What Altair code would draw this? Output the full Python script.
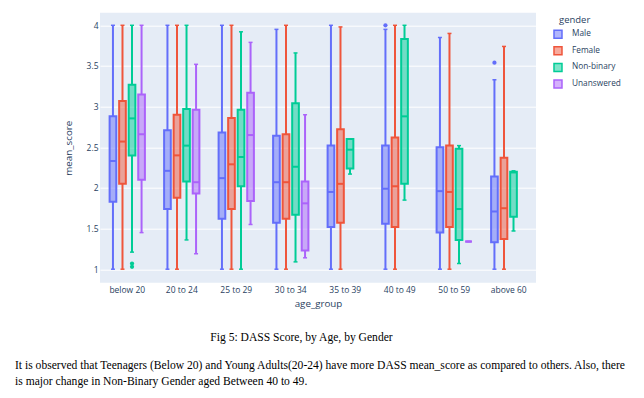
import altair as alt
import pandas as pd

AGE_GROUPS = ["below 20", "20 to 24", "25 to 29", "30 to 34",
              "35 to 39", "40 to 49", "50 to 59", "above 60"]
GENDERS = ["Male", "Female", "Non-binary", "Unanswered"]
LINE_COLORS = ["#636efa", "#EF553B", "#00cc96", "#ab63fa"]
FILL_COLORS = ["rgba(99,110,250,0.5)", "rgba(239,85,59,0.5)",
               "rgba(0,204,150,0.5)", "rgba(171,99,250,0.5)"]

# box statistics per age group (None = no box)
MALE_LO = [1, 1, 1, 1, 1, 1, 1, 1]
MALE_Q1 = [1.83, 1.74, 1.62, 1.57, 1.52, 1.56, 1.45, 1.33]
MALE_MED = [2.33, 2.21, 2.12, 2.07, 1.95, 1.99, 1.96, 1.71]
MALE_Q3 = [2.88, 2.71, 2.68, 2.64, 2.52, 2.52, 2.50, 2.14]
MALE_HI = [4, 4, 4, 3.95, 4, 3.95, 3.85, 3.33]

FEMALE_LO = [1, 1, 1, 1, 1, 1, 1, 1]
FEMALE_Q1 = [2.05, 1.88, 1.74, 1.62, 1.57, 1.52, 1.52, 1.37]
FEMALE_MED = [2.57, 2.40, 2.29, 2.07, 2.05, 2.02, 1.95, 1.75]
FEMALE_Q3 = [3.07, 2.90, 2.86, 2.66, 2.72, 2.62, 2.52, 2.37]
FEMALE_HI = [4, 4, 4, 4, 3.98, 4, 3.90, 3.74]

NB_LO = [1.21, 1.36, 1, 1.09, 2.17, 1.85, 1.07, 1.47]
NB_Q1 = [2.40, 2.08, 2.02, 1.67, 2.24, 2.05, 1.36, 1.645]
NB_MED = [2.855, 2.52, 2.38, 2.26, 2.47, 2.88, 1.74, 2.19]
NB_Q3 = [3.27, 2.97, 2.96, 3.04, 2.60, 3.83, 2.48, 2.20]
NB_HI = [4, 4, 3.92, 3.66, 2.60, 4, 2.52, 2.21]

UN_LO = [1.45, 1.19, 1.55, 1.14, None, None, 1.34, None]
UN_Q1 = [2.10, 1.93, 1.84, 1.23, None, None, 1.34, None]
UN_MED = [2.66, 2.07, 2.65, 1.81, None, None, 1.34, None]
UN_Q3 = [3.15, 2.96, 3.17, 2.08, None, None, 1.34, None]
UN_HI = [4, 3.52, 3.79, 2.90, None, None, 1.34, None]

OUTLIER_AGE = ["below 20", "below 20", "40 to 49", "above 60"]
OUTLIER_GENDER = ["Non-binary", "Non-binary", "Male", "Male"]
OUTLIER_VALUE = [1.07, 1.03, 4.0, 3.54]

CAPTION = "Fig 5: DASS Score, by Age, by Gender"
PARAGRAPH = [
    "It is observed that Teenagers (Below 20) and Young Adults(20-24) have more DASS mean_score as compared to others. Also, there",
    "is major change in Non-Binary Gender aged Between 40 to 49.",
]

series = {
    "Male": (MALE_LO, MALE_Q1, MALE_MED, MALE_Q3, MALE_HI),
    "Female": (FEMALE_LO, FEMALE_Q1, FEMALE_MED, FEMALE_Q3, FEMALE_HI),
    "Non-binary": (NB_LO, NB_Q1, NB_MED, NB_Q3, NB_HI),
    "Unanswered": (UN_LO, UN_Q1, UN_MED, UN_Q3, UN_HI),
}
rows = []
for g, (lo, q1, med, q3, hi) in series.items():
    for i, a in enumerate(AGE_GROUPS):
        if med[i] is None:
            continue
        rows.append(dict(age_group=a, gender=g, lo=lo[i], q1=q1[i],
                         med=med[i], q3=q3[i], hi=hi[i]))
stats = pd.DataFrame(rows)
outliers = pd.DataFrame(dict(age_group=OUTLIER_AGE, gender=OUTLIER_GENDER,
                             value=OUTLIER_VALUE))

FONT = "Open Sans"
TXT = "#2a3f5f"
SERIF = "Liberation Serif"

xenc = alt.X("age_group:N", sort=AGE_GROUPS, title="age_group",
             scale=alt.Scale(domain=AGE_GROUPS, paddingInner=0.3, paddingOuter=0.15),
             axis=alt.Axis(labelAngle=0, labelPadding=3, titlePadding=4, grid=False))
xoff = alt.XOffset("gender:N", sort=GENDERS,
                   scale=alt.Scale(domain=GENDERS, paddingInner=0.3, paddingOuter=0.15))
yscale = alt.Scale(domain=[0.834, 4.155], nice=False, zero=False)
yaxis = alt.Axis(values=[1, 1.5, 2, 2.5, 3, 3.5, 4], format="~g",
                 labelPadding=2, titlePadding=13)

legend = alt.Legend(title="gender", symbolType="square", symbolSize=64,
                    symbolStrokeWidth=1.5, orient="none", legendX=459, legendY=2,
                    labelFontSize=8.3, titleFontSize=9.5, labelFont=FONT, titleFont=FONT,
                    labelColor=TXT, titleColor=TXT, titleFontWeight="normal",
                    symbolOffset=-6, labelOffset=9, rowPadding=2.6, titlePadding=5)
fill = alt.Fill("gender:N", scale=alt.Scale(domain=GENDERS, range=FILL_COLORS), legend=legend)
stroke = alt.Stroke("gender:N", scale=alt.Scale(domain=GENDERS, range=LINE_COLORS), legend=legend)
color = alt.Color("gender:N", scale=alt.Scale(domain=GENDERS, range=LINE_COLORS), legend=None)

base = alt.Chart(stats).encode(x=xenc, xOffset=xoff)

whisk_lo = base.mark_rule(strokeWidth=2).encode(
    y=alt.Y("lo:Q", scale=yscale, axis=yaxis, title="mean_score"), y2="q1:Q", stroke=stroke)
whisk_hi = base.mark_rule(strokeWidth=2).encode(
    y=alt.Y("q3:Q", scale=yscale, title="mean_score"), y2="hi:Q", stroke=stroke)
box = base.mark_bar(strokeWidth=2).encode(
    y=alt.Y("q1:Q", scale=yscale, title="mean_score"), y2="q3:Q", fill=fill, stroke=stroke)
median = base.mark_tick(thickness=2, size=6.7, opacity=1).encode(
    y=alt.Y("med:Q", scale=yscale, title="mean_score"), color=color)
caps = base.transform_fold(["lo", "hi"], as_=["k", "v"]).mark_tick(
    thickness=1.5, size=4, opacity=1).encode(
    y=alt.Y("v:Q", scale=yscale, title="mean_score"), color=color)
points = alt.Chart(outliers).mark_circle(size=18, opacity=1).encode(
    x=xenc, xOffset=xoff,
    y=alt.Y("value:Q", scale=yscale, title="mean_score"), color=color)

cap = alt.Chart(pd.DataFrame({"t": [CAPTION]})).mark_text(
    font=SERIF, fontSize=11.6, align="center", baseline="middle", color="black"
).encode(text="t:N", x=alt.value(201.5), y=alt.value(325.3))
para1 = alt.Chart(pd.DataFrame({"t": [PARAGRAPH[0]]})).mark_text(
    font=SERIF, fontSize=11.6, align="left", baseline="middle", color="black"
).encode(text="t:N", x=alt.value(-85), y=alt.value(353.5))
para2 = alt.Chart(pd.DataFrame({"t": [PARAGRAPH[1]]})).mark_text(
    font=SERIF, fontSize=11.6, align="left", baseline="middle", color="black"
).encode(text="t:N", x=alt.value(-85), y=alt.value(369))

chart = alt.layer(whisk_lo, whisk_hi, box, median, caps, points, cap, para1, para2).properties(
    width=436, height=270,
    padding={"left": 7, "top": 4.7, "right": 0, "bottom": 0},
    background="white",
).configure_view(fill="#E5ECF6", stroke=None).configure_axis(
    gridColor="white", gridWidth=1, domain=False, ticks=False, tickSize=0,
    labelFont=FONT, labelFontSize=8.5, labelColor=TXT,
    titleFont=FONT, titleFontSize=9.8, titleColor=TXT, titleFontWeight="normal",
)

chart.save("out.html", embed_options={"renderer": "svg", "actions": False})
